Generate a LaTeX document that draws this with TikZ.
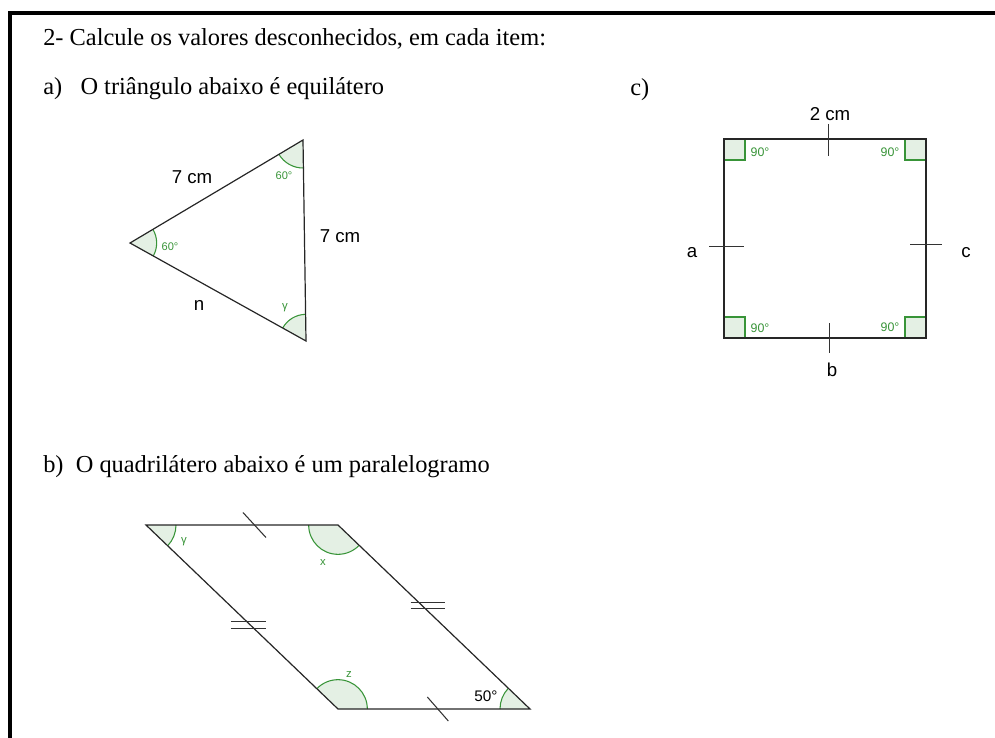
\documentclass[tikz,border=0pt]{standalone}
\usepackage{fontspec}
\setmainfont{Liberation Serif}
\newfontfamily\arialf{Liberation Sans}
\usetikzlibrary{angles,calc}
\definecolor{angdraw}{RGB}{56,148,56}
\definecolor{angfill}{RGB}{228,240,228}
\begin{document}
\begin{tikzpicture}[
        x=0.75pt, y=-0.75pt,
        edge/.style={draw=black!85, line width=0.9pt},
        ang/.style={draw=angdraw, fill=angfill, line width=0.8pt},
        rang/.style={draw=angdraw, fill=angfill, line width=0.8pt},
        head/.style={font=\fontsize{18.3}{20}\selectfont, anchor=base west, inner sep=0pt},
        meas/.style={font=\arialf\fontsize{14}{16}\selectfont, inner sep=0pt},
        angl/.style={font=\arialf\fontsize{8.3}{9}\selectfont, text=angdraw, inner sep=0pt},
        tick/.style={draw=black!80, line width=0.8pt},
    ]
    \useasboundingbox (0,0) rectangle (995,738);
    \draw[line width=3.4pt] (10,738) -- (10,13) -- (995,13);

    \node[head] (title) at (43,46) {2- Calcule os valores desconhecidos, em cada item:};
    \node[head] (itema) at (43,95) {a)\hspace{0.75em}O triângulo abaixo é equilátero};
    \node[head] (itemc) at (630,96) {c)};
    \node[head] (itemb) at (43,472) {b)\hspace{0.5em}O quadrilátero abaixo é um paralelogramo};

    % a) triangulo
    \coordinate (L) at (130,243);
    \coordinate (T) at (303,140);
    \coordinate (B) at (306,341);
    \pic[ang, angle radius=20pt] {angle=B--L--T};
    \pic[ang, angle radius=21pt] {angle=L--T--B};
    \pic[ang, angle radius=20pt] {angle=T--B--L};
    \draw[edge] (L) -- (T) -- (B) -- cycle;
    \node[meas] (sideLT) at (192,177) {7 cm};
    \node[meas] (sideTB) at (340,236) {7 cm};
    \node[meas] (sideBL) at (199,305) {n};
    \node[angl] (angL) at (170,247) {60°};
    \node[angl] (angT) at (284,176) {60°};
    \node[angl, font=\arialf\fontsize{8.5}{9}\selectfont] (angB) at (285,308) {γ};

    % c) quadrado
    \coordinate (S1) at (724,139);
    \coordinate (S2) at (926,139);
    \coordinate (S3) at (926,338);
    \coordinate (S4) at (724,338);
    \draw[rang] (S1) rectangle ++(21,21);
    \draw[rang] (S2) rectangle ++(-21,21);
    \draw[rang] (S3) rectangle ++(-21,-21);
    \draw[rang] (S4) rectangle ++(21,-21);
    \draw[edge] (S1) -- (S2) -- (S3) -- (S4) -- cycle;
    \draw[tick] ($(S1)!0.515!(S2)$) ++(0,-15) -- ++(0,32);
    \draw[tick] ($(S4)!0.52!(S3)$) ++(0,-15) -- ++(0,30);
    \draw[tick] ($(S1)!0.54!(S4)$) ++(-15,0) -- ++(35,0);
    \draw[tick] ($(S2)!0.53!(S3)$) ++(-16,0) -- ++(32,0);
    \node[meas] (sideS12) at (830,114) {2 cm};
    \node[meas] (sideS14) at (692,253) {a};
    \node[meas] (sideS23) at (966,253) {c};
    \node[meas] (sideS43) at (832,370) {b};
    \node[angl, font=\arialf\fontsize{9.3}{10}\selectfont] (angS1) at (760,152) {90°};
    \node[angl, font=\arialf\fontsize{9.3}{10}\selectfont] (angS2) at (890,152) {90°};
    \node[angl, font=\arialf\fontsize{9.3}{10}\selectfont] (angS4) at (760,328) {90°};
    \node[angl, font=\arialf\fontsize{9.3}{10}\selectfont] (angS3) at (890,327) {90°};

    % b) paralelogramo
    \coordinate (P1) at (146,525);
    \coordinate (P2) at (338,525);
    \coordinate (P3) at (530,709);
    \coordinate (P4) at (338,709);
    \pic[ang, angle radius=22.5pt] {angle=P4--P1--P2};
    \pic[ang, angle radius=22pt] {angle=P1--P2--P3};
    \pic[ang, angle radius=22pt] {angle=P3--P4--P1};
    \pic[ang, angle radius=22.5pt] {angle=P2--P3--P4};
    \draw[edge] (P1) -- (P2) -- (P3) -- (P4) -- cycle;
    \draw[tick] ($(P1)!0.565!(P2)$) ++(-11.5,-12.5) -- ++(23,25);
    \draw[tick] ($(P4)!0.52!(P3)$) ++(-10.5,-12) -- ++(21,24);
    \draw[tick] ($(P1)!0.543!(P4)$) ++(-19.5,-3.3) -- ++(35,0);
    \draw[tick] ($(P1)!0.543!(P4)$) ++(-19.5,3.3) -- ++(35,0);
    \draw[tick] ($(P2)!0.435!(P3)$) ++(-11,-3) -- ++(34,0);
    \draw[tick] ($(P2)!0.435!(P3)$) ++(-11,3) -- ++(34,0);
    \node[angl, font=\arialf\fontsize{8.5}{9}\selectfont] (angP1) at (184,542) {γ};
    \node[angl, font=\arialf\fontsize{8.5}{9}\selectfont] (angP2) at (323,562) {x};
    \node[angl, font=\arialf\fontsize{8.5}{9}\selectfont] (angP4) at (349,674) {z};
    \node[meas, font=\arialf\fontsize{11.5}{13}\selectfont] (angP3) at (486,696) {50°};
\end{tikzpicture}
\end{document}
